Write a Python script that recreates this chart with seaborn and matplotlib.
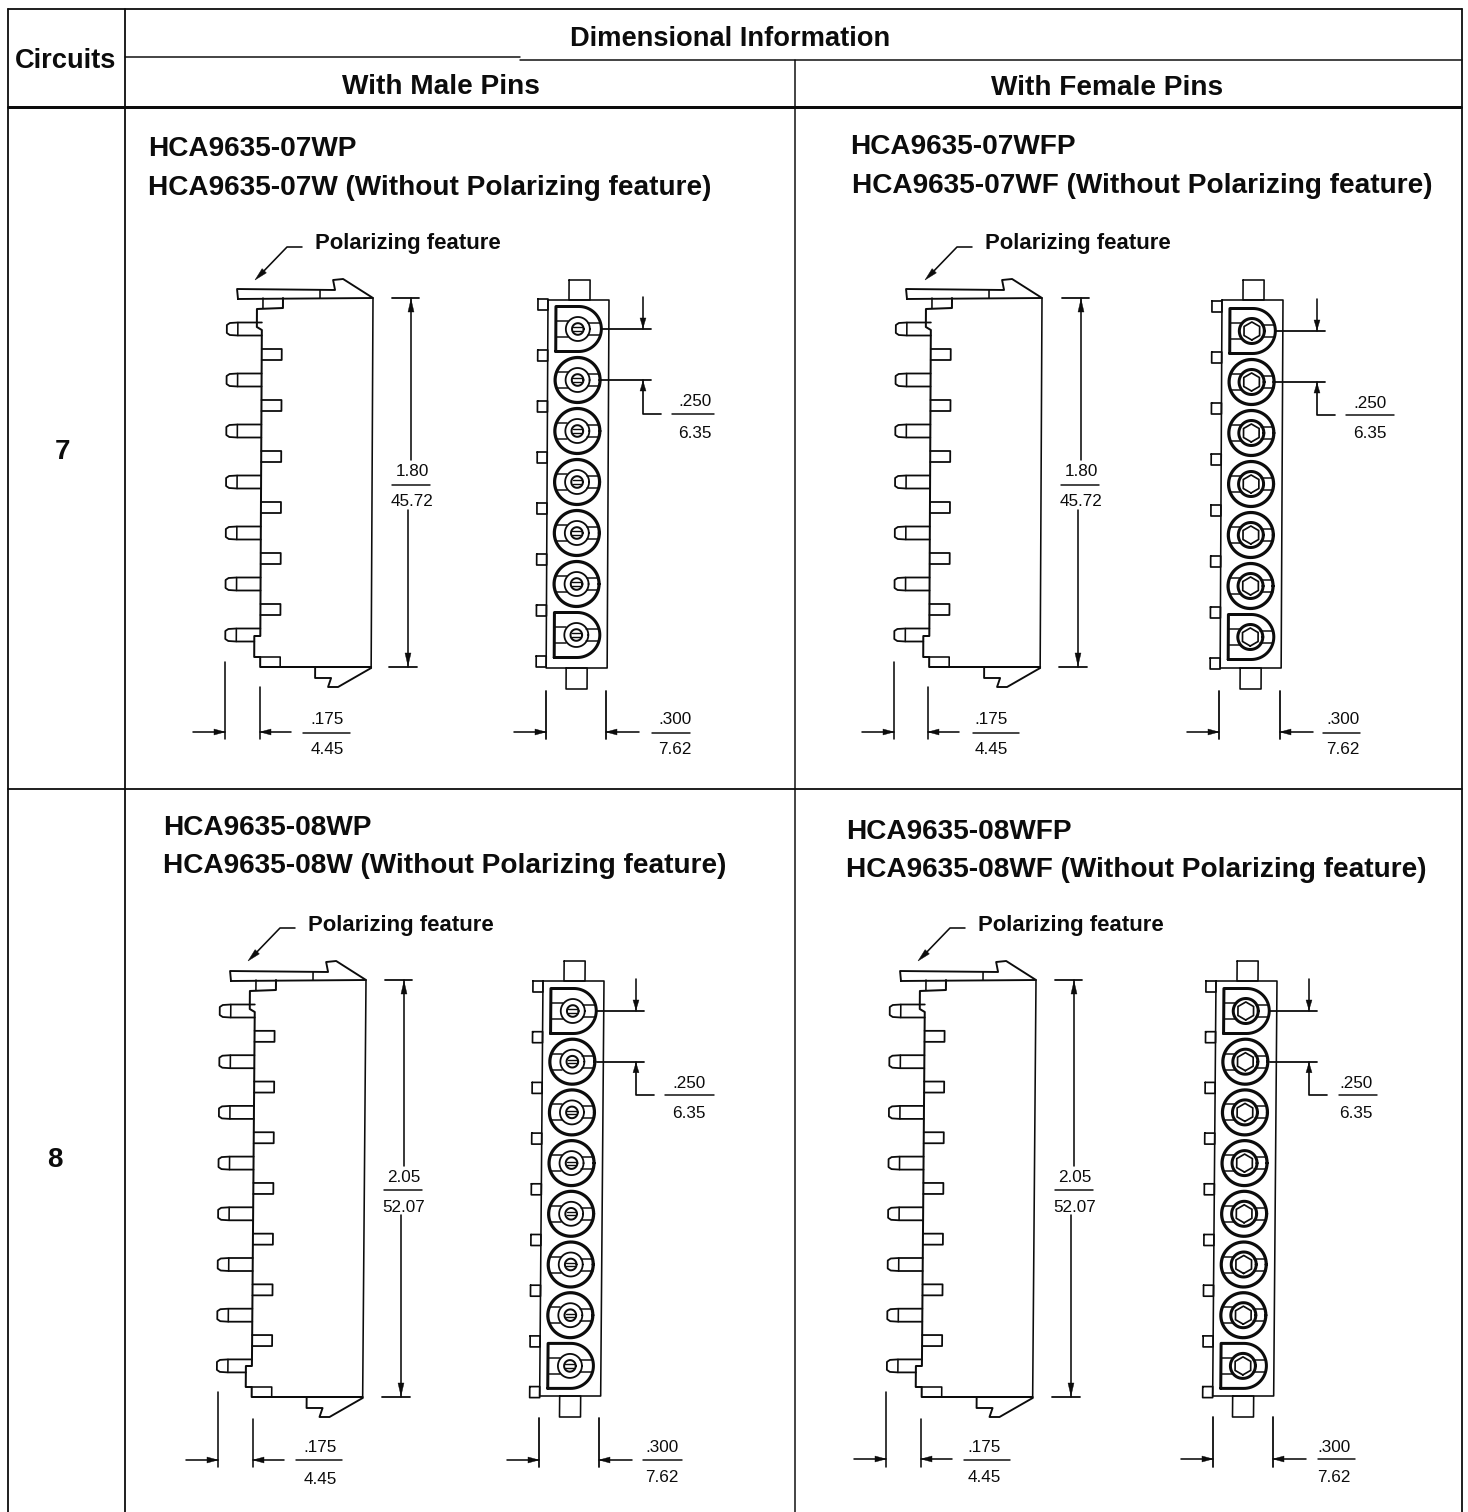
import numpy as np
import pandas as pd
import seaborn as sns
import matplotlib.pyplot as plt

# table text
circuits = ['7', '8']
header_top = 'Dimensional Information'
header_left = 'Circuits'
header_male = 'With Male Pins'
header_female = 'With Female Pins'
parts_male = ['HCA9635-07WP', 'HCA9635-08WP']
parts_male_nopol = ['HCA9635-07W (Without Polarizing feature)', 'HCA9635-08W (Without Polarizing feature)']
parts_female = ['HCA9635-07WFP', 'HCA9635-08WFP']
parts_female_nopol = ['HCA9635-07WF (Without Polarizing feature)', 'HCA9635-08WF (Without Polarizing feature)']
pol_label = 'Polarizing feature'

# dimensions as printed
length_in = ['1.80', '2.05']
length_mm = ['45.72', '52.07']
pitch_in, pitch_mm = '.250', '6.35'
width_in, width_mm = '.300', '7.62'
offset_in, offset_mm = '.175', '4.45'

# layout of the four drawings, pixel coords of the page
# sk is the lean of the scanned drawing, pa the x of the pitch arrow from the body edge
panels = [
    dict(r=0, f=0, tx=148, ty=147, tx2=148, ty2=186, ox=262, top=298, bot=667, fx=548, ftop=300, fbot=668, cy=329, p=51.0,
         sk=-0.005, pa=95, lab=(315, 242), dimx=411, frac_len=(412, 470, 485, 500), frac_p=(695, 400, 414, 431, 672, 714),
         ext_s=(225, 260, 662, 687, 739, 732), frac_o=(327, 717, 733, 747, 303, 350),
         ext_f=(546, 606, 691, 739, 732), frac_w=(675, 717, 733, 747, 652, 690)),
    dict(r=0, f=1, tx=850, ty=145, tx2=852, ty2=184, ox=931, top=298, bot=667, fx=1222, ftop=300, fbot=668, cy=331, p=51.0,
         sk=-0.005, pa=95, lab=(985, 242), dimx=1081, frac_len=(1081, 470, 485, 500), frac_p=(1370, 401, 415, 432, 1346, 1394),
         ext_s=(894, 928, 662, 687, 739, 732), frac_o=(991, 717, 733, 747, 973, 1019),
         ext_f=(1219, 1280, 691, 739, 732), frac_w=(1343, 717, 733, 747, 1323, 1360)),
    dict(r=1, f=0, tx=163, ty=826, tx2=163, ty2=864, ox=255, top=980, bot=1397, fx=543, ftop=981, fbot=1396, cy=1011, p=50.7,
         sk=-0.008, pa=93, lab=(308, 923), dimx=404, frac_len=(404, 1176, 1190, 1205), frac_p=(689, 1082, 1095, 1112, 665, 714),
         ext_s=(218, 253, 1392, 1419, 1467, 1460), frac_o=(320, 1446, 1460, 1477, 296, 342),
         ext_f=(539, 599, 1418, 1467, 1460), frac_w=(662, 1446, 1460, 1476, 643, 682)),
    dict(r=1, f=1, tx=846, ty=830, tx2=846, ty2=868, ox=925, top=980, bot=1397, fx=1216, ftop=981, fbot=1396, cy=1011, p=50.7,
         sk=-0.008, pa=93, lab=(978, 923), dimx=1074, frac_len=(1075, 1176, 1190, 1205), frac_p=(1356, 1082, 1095, 1112, 1339, 1377),
         ext_s=(886, 921, 1392, 1419, 1467, 1459), frac_o=(984, 1446, 1460, 1476, 964, 1010),
         ext_f=(1213, 1273, 1417, 1467, 1459), frac_w=(1334, 1445, 1459, 1475, 1318, 1355)),
]

INK = '#0c0c0c'
rows = []
heads = []
uid = 0
lean = 0.0
lean_y0 = 0.0


def poly(pts, w=1.6):
    global uid
    uid += 1
    for x, y in pts:
        rows.append((x + lean * (y - lean_y0), y, uid, w))


def rect(x0, y0, x1, y1, w=1.6):
    poly([(x0, y0), (x1, y0), (x1, y1), (x0, y1), (x0, y0)], w)


def ring(cx, cy, r, w=1.6):
    t = np.linspace(0, 2 * np.pi, 60)
    poly(list(zip(cx + r * np.cos(t), cy + r * np.sin(t))), w)


def arrow(x, y, dx, dy, size=10):
    # tip at x,y pointing along dx,dy
    px, py = -dy, dx
    heads.append(([x, x - dx * size + px * 3, x - dx * size - px * 3],
                  [y, y - dy * size + py * 3, y - dy * size - py * 3]))


def side_view(ox, top, bot, n, pitch):
    # flange and nose
    poly([(ox - 24, top + 1), (ox - 25, top - 9), (ox + 73, top - 8), (ox + 71, top - 18),
          (ox + 81, top - 19), (ox + 111, top), (ox - 24, top + 1)], 1.9)
    poly([(ox + 58, top - 8), (ox + 58, top)])
    # stub under flange, wall, bottom
    poly([(ox + 21, top), (ox + 21, top + 10), (ox - 5, top + 11), (ox - 5, top + 29), (ox, top + 32),
          (ox, bot - 38), (ox, bot - 31), (ox - 6, bot - 31), (ox - 6, bot - 10), (ox, bot - 10),
          (ox, bot), (ox + 111, bot)], 2.0)
    poly([(ox + 1, top), (ox + 1, top + 10)])
    poly([(ox, bot - 10), (ox + 20, bot - 10), (ox + 20, bot)])
    # right edge and foot
    poly([(ox + 111, top), (ox + 111, bot + 1)])
    poly([(ox + 55, bot), (ox + 55, bot + 11), (ox + 71, bot + 11), (ox + 68, bot + 20),
          (ox + 78, bot + 20), (ox + 111, bot + 1)], 1.9)
    # pins on the left, stubs on the right
    pin0 = top + 31
    for i in range(n):
        y = pin0 + i * pitch
        wall = ox - 6 if i == n - 1 else ox
        poly([(wall, y + 6.5), (ox - 24, y + 6.5), (ox - 32, y + 6), (ox - 35, y + 4), (ox - 35, y - 4),
              (ox - 32, y - 6), (ox - 24, y - 6.5), (ox, y - 6.5)], 1.8)
        poly([(ox - 24, y - 6.5), (ox - 24, y + 6.5)], 1.6)
        if i < n - 1:
            ys = y + pitch / 2
            poly([(ox, ys - 5.5), (ox + 20, ys - 5.5), (ox + 20, ys + 5.5), (ox, ys + 5.5)], 1.8)


def front_view(fx, top, bot, cy0, n, pitch, female):
    cx = fx + 30
    rect(fx, top, fx + 61, bot, 1.6)
    rect(fx + 21, top - 20, fx + 42, top)
    rect(fx + 20, bot, fx + 41, bot + 21)
    for i in range(n + 1):
        y = cy0 - 24.5 + i * pitch
        rect(fx - 10, y - 5.5, fx, y + 5.5, 1.7)
    for i in range(n):
        y = cy0 + i * pitch
        if i == 0 or i == n - 1:
            t = np.linspace(-np.pi / 2, np.pi / 2, 40)
            arc = list(zip(cx + 1 + 22.5 * np.cos(t), y + 22.5 * np.sin(t)))
            poly([(cx - 22, y + 22.5), (cx - 22, y - 22.5)] + arc + [(cx - 22, y + 22.5)], 3.0)
        else:
            ring(cx, y, 22.5, 3.2)
        # side slots
        poly([(cx - 21, y - 8), (cx - 10, y - 8)], 1.5)
        poly([(cx - 21, y + 8), (cx - 10, y + 8)], 1.5)
        poly([(cx + 10, y - 6), (cx + 22, y - 6)], 1.5)
        poly([(cx + 10, y + 6), (cx + 22, y + 6)], 1.5)
        if female:
            ring(cx, y, 12.5, 3.0)
            t = np.linspace(0, 2 * np.pi, 7) + np.pi / 2
            poly(list(zip(cx + 9 * np.cos(t), y + 9 * np.sin(t))), 1.7)
        else:
            ring(cx, y, 12, 1.8)
            ring(cx, y, 5.8, 2.0)
            poly([(cx - 4.5, y - 1.6), (cx + 4.5, y - 1.6)], 1.4)
            poly([(cx - 4.5, y + 1.6), (cx + 4.5, y + 1.6)], 1.4)


sns.set_theme(style='white')
plt.rcParams['font.family'] = ['Liberation Sans', 'DejaVu Sans']

fig = plt.figure(figsize=(14.68, 15.12), dpi=100)
ax = fig.add_axes([0, 0, 1, 1])

# table rules
poly([(8, 9), (1462, 9)], 1.8)
poly([(8, 9), (8, 1512)], 1.8)
poly([(1462, 9), (1462, 1512)], 1.8)
poly([(125, 9), (125, 1512)], 1.8)
poly([(795, 60), (795, 1512)], 1.5)
poly([(125, 57), (520, 57)], 1.5)
poly([(520, 60), (1462, 60)], 1.5)
poly([(8, 107), (1461, 107)], 3.0)
poly([(8, 789), (1462, 789)], 1.8)


def tx(x, y, s, size=12.3, weight='normal', ha='center'):
    ax.text(x, y + 2, s, fontsize=size, fontweight=weight, ha=ha, va='center', color=INK)


def fraction(xc, y1, yl, y2, x0, x1, s1, s2):
    tx(xc, y1, s1)
    tx(xc, y2, s2)
    poly([(x0, yl), (x1, yl)], 1.5)


tx(66, 59, header_left, 19.6, 'bold')
tx(730, 37, header_top, 19.6, 'bold')
tx(441, 85, header_male, 20.2, 'bold')
tx(1107, 86, header_female, 20.2, 'bold')
tx(62, 450, circuits[0], 20, 'bold')
tx(55, 1158, circuits[1], 20, 'bold')

for pn in panels:
    r = pn['r']
    n = int(circuits[r])
    t1 = parts_female[r] if pn['f'] else parts_male[r]
    t2 = parts_female_nopol[r] if pn['f'] else parts_male_nopol[r]
    tx(pn['tx'], pn['ty'], t1, 20.2, 'bold', 'left')
    tx(pn['tx2'], pn['ty2'], t2, 20.2, 'bold', 'left')

    lean = pn['sk']
    lean_y0 = pn['top']
    side_view(pn['ox'], pn['top'], pn['bot'], n, pn['p'])
    front_view(pn['fx'], pn['ftop'], pn['fbot'], pn['cy'], n, pn['p'], pn['f'])
    lean = 0.0

    # polarizing leader
    lx, ly = pn['lab']
    tx(lx, ly, pol_label, 15.9, 'bold', 'left')
    poly([(lx - 13, ly + 5), (lx - 28, ly + 5), (lx - 55, ly + 33)])
    arrow(lx - 60, ly + 38, -0.71, 0.71, 13)

    # overall length
    dx, top, bot = pn['dimx'], pn['top'], pn['bot']
    poly([(dx - 19, top), (dx + 8, top)], 1.8)
    poly([(dx - 22, bot), (dx + 6, bot)], 1.8)
    xc, y1, yl, y2 = pn['frac_len']
    poly([(dx, top), (dx, y1 - 10)])
    poly([(dx - 3, y2 + 10), (dx - 3, bot)])
    arrow(dx, top + 1, 0, -1, 13)
    arrow(dx - 3, bot - 1, 0, 1, 13)
    fraction(xc, y1, yl, y2, xc - 20, xc + 18, length_in[r], length_mm[r])

    # cavity pitch
    fx, cy, p = pn['fx'], pn['cy'], pn['p']
    ax_x = fx + pn['pa']
    poly([(fx + 54, cy), (ax_x + 8, cy)], 1.8)
    poly([(fx + 54, cy + p), (ax_x + 8, cy + p)], 1.8)
    poly([(ax_x, cy - 32), (ax_x, cy)])
    xc, y1, yl, y2, x0, x1 = pn['frac_p']
    poly([(ax_x, cy + p), (ax_x, yl), (ax_x + 18, yl)], 1.7)
    arrow(ax_x, cy - 1, 0, 1, 10)
    arrow(ax_x, cy + p + 1, 0, -1, 10)
    fraction(xc, y1, yl, y2, x0, x1, pitch_in, pitch_mm)

    # pin offset
    e0, e1, t0, t1_, b, ya = pn['ext_s']
    poly([(e0, t0), (e0, b)])
    poly([(e1, t1_), (e1, b)])
    poly([(e0 - 32, ya), (e0, ya)])
    poly([(e1, ya), (e1 + 31, ya)])
    arrow(e0, ya, 1, 0, 11)
    arrow(e1, ya, -1, 0, 11)
    xc, y1, yl, y2, x0, x1 = pn['frac_o']
    fraction(xc, y1, yl, y2, x0, x1, offset_in, offset_mm)

    # body width
    e0, e1, t0, b, ya = pn['ext_f']
    poly([(e0, t0), (e0, b)], 1.8)
    poly([(e1, t0), (e1, b)], 1.8)
    poly([(e0 - 32, ya), (e0, ya)])
    poly([(e1, ya), (e1 + 33, ya)])
    arrow(e0, ya, 1, 0, 11)
    arrow(e1, ya, -1, 0, 11)
    xc, y1, yl, y2, x0, x1 = pn['frac_w']
    fraction(xc, y1, yl, y2, x0, x1, width_in, width_mm)

df_lines = pd.DataFrame(rows, columns=['x', 'y', 'part', 'w'])
for w, grp in df_lines.groupby('w'):
    # line widths above are in page pixels
    sns.lineplot(data=grp, x='x', y='y', units='part', estimator=None, sort=False,
                 color=INK, linewidth=w * 0.72, ax=ax, legend=False)
for xs, ys in heads:
    ax.fill(xs, ys, color=INK, lw=0.3)

ax.set_xlim(0, 1468)
ax.set_ylim(1512, 0)
ax.set_axis_off()
plt.savefig('out.png', dpi=100, facecolor='white')
plt.close()
